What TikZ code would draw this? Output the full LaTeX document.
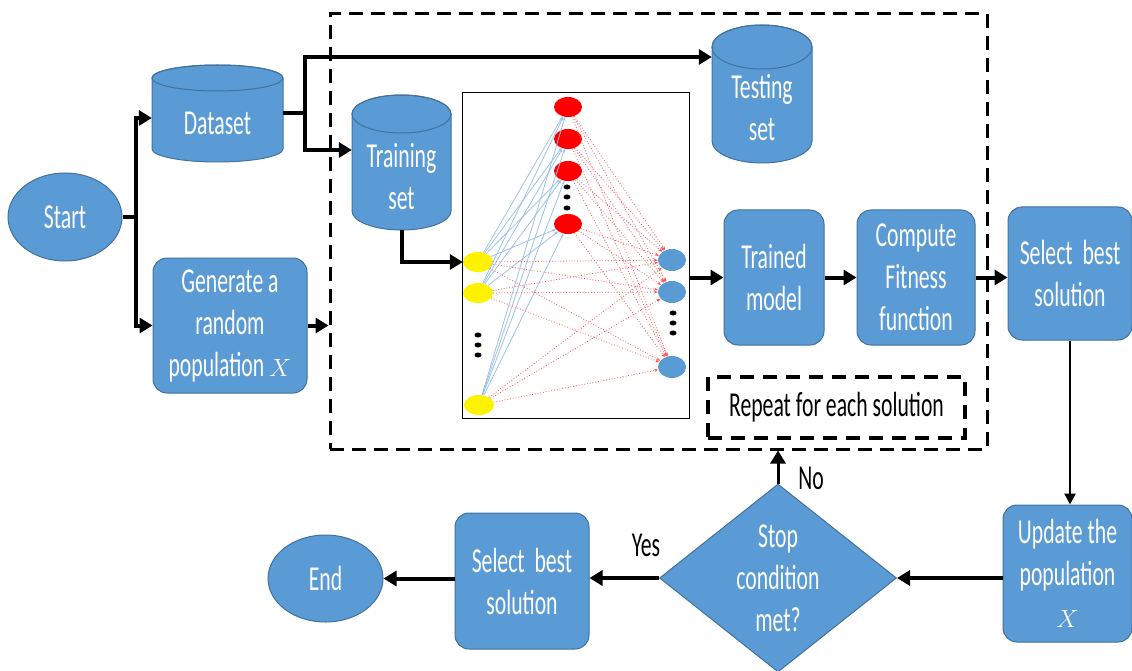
\documentclass[tikz,border=0pt]{standalone}
\usepackage{fontspec}
\setmainfont{Carlito}[FakeStretch=0.62]
\usetikzlibrary{arrows.meta,shapes.geometric}
\definecolor{boxblue}{HTML}{5B9BD5}
\definecolor{boxedge}{HTML}{41719C}
\definecolor{linkblue}{HTML}{9DC3E6}
\definecolor{linkred}{HTML}{FF5050}
\newcommand\drawcyl[5]{% L T R B ry
  \pgfmathsetmacro\cylcx{(#1+#3)/2}\pgfmathsetmacro\cylrx{(#3-#1)/2}%
  \filldraw[fill=boxblue,draw=boxedge,line width=1pt] (#1,#2+#5) -- (#1,#4-#5)
     arc[start angle=180,end angle=0,x radius=\cylrx,y radius=#5] -- (#3,#2+#5)
     arc[start angle=0,end angle=-180,x radius=\cylrx,y radius=#5] -- cycle;
  \draw[boxedge,line width=1pt] (\cylcx,#2+#5) ellipse[x radius=\cylrx,y radius=#5];
}
\tikzset{
  base/.style={font=\fontsize{35}{42}\selectfont, text=white, align=center, inner sep=0pt},
  rbox/.style={base, rectangle, rounded corners=14pt, fill=boxblue, draw=boxedge, line width=1pt},
  oval/.style={base, ellipse, fill=boxblue, draw=boxedge, line width=1pt},
  decision/.style={base, diamond, aspect=1.26, fill=boxblue, draw=boxedge, line width=1pt},
  lbl/.style={base, text=black},
  arr/.style={line width=4pt, -{Triangle[length=13pt,width=15pt]}},
  thinarr/.style={line width=2.5pt, -{Triangle[length=11pt,width=11pt]}},
  ln/.style={line width=4pt},
  neuron/.style={ellipse, inner sep=0pt, minimum width=28pt, minimum height=20pt},
  blackdot/.style={ellipse, fill=black, inner sep=0pt, minimum width=7pt, minimum height=5pt},
  bl/.style={linkblue, line width=0.8pt, -{Stealth[length=4pt,width=3pt]}},
  rl/.style={linkred, line width=0.8pt, dotted, -{Stealth[length=4pt,width=3pt]}},
  bigdash/.style={draw=black, line width=3pt, dash pattern=on 14pt off 8pt},
}
\begin{document}
\begin{tikzpicture}[x=1pt,y=-1pt]
\useasboundingbox (0,0) rectangle (1132,671);

% dashed frames
\node[bigdash, minimum width=657pt, minimum height=435pt, inner sep=0pt] (dbox) at (658.5,231.5) {};
\node[lbl, draw=black, line width=4pt, dash pattern=on 14pt off 9pt, minimum width=257pt, minimum height=61pt] (rep) at (836.5,407.5) {Repeat for each solution};

% cylinders
\drawcyl{152}{65}{283}{162}{13}
\drawcyl{352}{95}{451}{230}{19}
\drawcyl{712}{25}{812}{163}{22}
\node[base, minimum width=131pt, minimum height=78pt] (dataset) at (217.5,123) {Dataset};
\node[base, minimum width=99pt, minimum height=106pt] (training) at (401.5,177) {Training\\set};
\node[base, minimum width=100pt] (testing) at (762,108) {Testing\\set};

% flow nodes
\node[oval, minimum width=114pt, minimum height=88pt] (start) at (65,217) {Start};
\node[rbox, minimum width=154pt, minimum height=135pt] (generate) at (230,325.5) {Generate a\\random\\population $X$};
\node[rbox, minimum width=100pt, minimum height=135pt] (trained) at (774,277.5) {Trained\\model};
\node[rbox, minimum width=118pt, minimum height=135pt] (compute) at (916,277.5) {Compute\\Fitness\\function};
\node[rbox, minimum width=124pt, minimum height=133pt] (select1) at (1070,273.5) {Select~~best\\solution};
\node[rbox, minimum width=129pt, minimum height=137pt] (update) at (1067.5,573.5) {Update the\\population\\$X$};
\node[decision, minimum width=237pt, minimum height=188pt] (diamond) at (778,578) {Stop\\condition\\met?};
\node[rbox, minimum width=134pt, minimum height=136pt] (select2) at (522,581) {Select~~best\\solution};
\node[oval, minimum width=115pt, minimum height=87pt] (end) at (325.5,578.5) {End};
\node[lbl] (yes) at (646,545) {Yes};
\node[lbl] (no) at (811,478) {No};

% neural network
\node[draw=black, line width=1pt, minimum width=227pt, minimum height=325pt, inner sep=0pt] (nn) at (575.5,255.5) {};
\node[neuron, fill=red] (r1) at (568,107) {};
\node[neuron, fill=red] (r2) at (568,139) {};
\node[neuron, fill=red] (r3) at (568,171) {};
\node[neuron, fill=red] (r4) at (568,224) {};
\node[neuron, fill=yellow, minimum width=30pt] (y1) at (478,262) {};
\node[neuron, fill=yellow, minimum width=30pt] (y2) at (478,293) {};
\node[neuron, fill=yellow, minimum width=30pt] (y3) at (479,405) {};
\node[neuron, fill=boxblue, minimum height=22pt] (b1) at (672,260) {};
\node[neuron, fill=boxblue, minimum height=22pt] (b2) at (672,292) {};
\node[neuron, fill=boxblue, minimum height=22pt] (b3) at (672,367) {};
\node[blackdot] (rd1) at (567,187) {};
\node[blackdot] (rd2) at (567,197) {};
\node[blackdot] (rd3) at (567,208) {};
\node[blackdot] (yd1) at (478,335) {};
\node[blackdot] (yd2) at (478,345) {};
\node[blackdot] (yd3) at (478,355) {};
\node[blackdot] (bd1) at (673,313) {};
\node[blackdot] (bd2) at (673,323) {};
\node[blackdot] (bd3) at (673,333) {};
\foreach \a in {y1,y2,y3} \foreach \b in {r1,r2,r3,r4} \draw[bl] (\a) -- (\b);
\foreach \a in {y1,y2,y3,r1,r2,r3,r4} \foreach \b in {b1,b2,b3} \draw[rl] (\a) -- (\b);

% connectors
\draw[ln] (start.east) -- ++(13,0) coordinate (sj);
\draw[arr] (sj) |- ([yshift=5pt]dataset.west);
\draw[arr] (sj) |- (generate.west);
\draw[ln] ([yshift=10pt]dataset.east) -- ++(22,0) coordinate (dj);
\draw[arr] (dj) |- ([yshift=51pt]testing.west);
\draw[arr] (dj) |- ([yshift=27pt]training.west);
\draw[arr] (training.south) |- (y1.west);
\draw[arr] (generate.east) -- (generate.east -| dbox.west);
\draw[arr] (nn.east |- trained.west) -- (trained.west);
\draw[arr] (trained.east) -- (compute.west);
\draw[arr] (compute.east) -- (compute.east -| select1.west);
\draw[thinarr] (select1.south) -- (select1.south |- update.north);
\draw[arr] (update.west |- diamond.east) -- (diamond.east);
\draw[arr] (diamond.west) -- (diamond.west -| select2.east);
\draw[arr] (select2.west |- end.east) -- (end.east);
\draw[arr, line width=3pt] (diamond.north) -- (diamond.north |- dbox.south);
\end{tikzpicture}
\end{document}
